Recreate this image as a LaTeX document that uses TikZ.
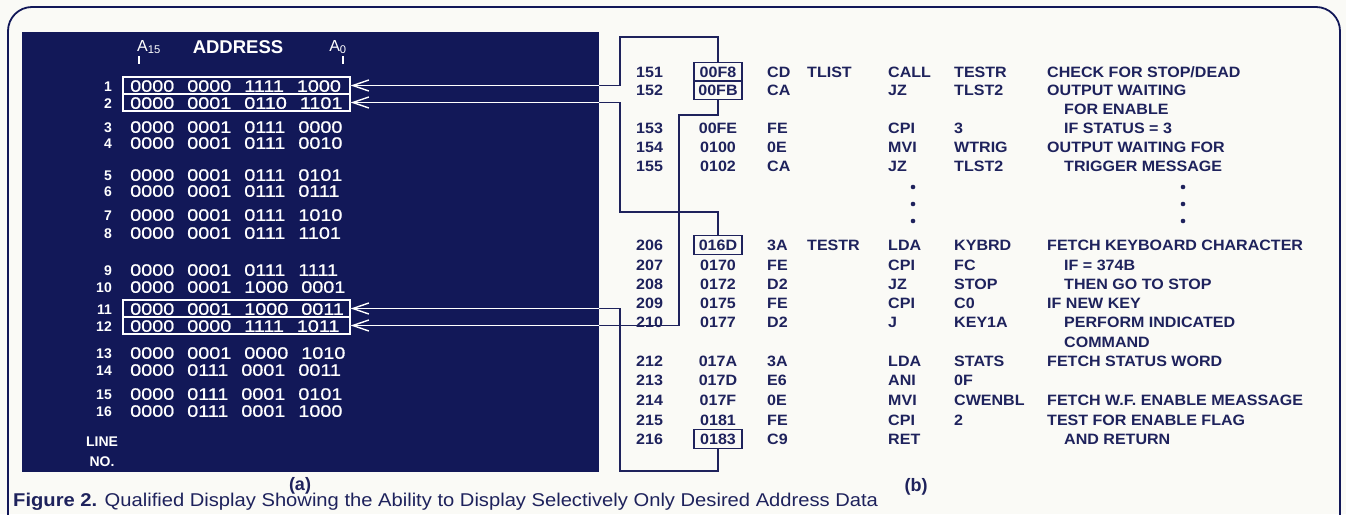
\documentclass[tikz,border=0pt]{standalone}
\usepackage{fontspec}
\setmainfont{Liberation Sans}
\newfontfamily\lstfont[FakeStretch=1.07]{Liberation Sans}
\newfontfamily\binfont[FakeStretch=1.2,FakeBold=0.8]{Liberation Sans}
\newfontfamily\capfont[FakeStretch=1.09]{Liberation Sans}
\usetikzlibrary{arrows.meta}
\usetikzlibrary{calc}
\definecolor{navy}{RGB}{18,24,88}
\definecolor{ink}{RGB}{30,34,92}
\definecolor{paper}{RGB}{250,250,246}

\begin{document}
\begin{tikzpicture}[x=1pt, y=-1pt,
  lst/.style={anchor=west, text=ink, inner sep=0pt, text height=10.5pt, text depth=0pt,
              font=\lstfont\bfseries\fontsize{15}{15}\selectfont},
  addr/.style={lst, anchor=center, minimum width=48pt, minimum height=19pt, line width=1.4pt},
  plain/.style={},
  boxed/.style={draw=ink},
  lnum/.style={anchor=east, text=white, inner sep=0pt, text height=10pt, text depth=0pt,
               font=\bfseries\fontsize{14}{14}\selectfont},
  bin/.style={anchor=west, text=white, inner sep=0pt, text height=11.5pt, text depth=0pt,
              font=\binfont\fontsize{16.5}{16.5}\selectfont},
  hlbox/.style={draw=white, line width=1.4pt, minimum width=227pt, minimum height=17pt, inner sep=0pt},
  conn/.style={line width=1.8pt, -{Straight Barb[length=16pt,width=11pt,line width=1.4pt]}},
  tag/.style={text=ink, inner sep=0pt, font=\bfseries\fontsize{18}{18}\selectfont}
]

%---------------------------------------
% Page, frame and panel
%---------------------------------------
\useasboundingbox (0,0) rectangle (1346,514);
\clip (0,0) rectangle (1346,514);
\fill[paper] (0,0) rectangle (1346,514);
\draw[navy, line width=1.8pt, rounded corners=24pt] (8,7) rectangle (1340,545);

\def\Pl{22}
\def\Pr{599}
\def\Pt{32}
\def\Pb{472}
\fill[navy] (\Pl,\Pt) rectangle (\Pr,\Pb);

%====================================================
% PANEL (a): address display
%====================================================
\node[text=white, inner sep=0pt, font=\fontsize{16}{16}\selectfont] (a15) at (149,47) {A\textsubscript{15}};
\node[text=white, inner sep=0pt, font=\bfseries\fontsize{18.5}{18.5}\selectfont] (addrhd) at (238,47) {ADDRESS};
\node[text=white, inner sep=0pt, font=\fontsize{16}{16}\selectfont] (a0) at (338,47) {A\textsubscript{0}};
\draw[white, line width=1.3pt] (139,56) -- (139,64);
\draw[white, line width=1.3pt] (343,56) -- (343,64);

% lines of the display
\foreach \y/\n/\a/\b/\c/\d in {
   86/1/0000/0000/1111/1000,  103/2/0000/0001/0110/1101,
  127/3/0000/0001/0111/0000,  143/4/0000/0001/0111/0010,
  175/5/0000/0001/0111/0101,  191/6/0000/0001/0111/0111,
  215/7/0000/0001/0111/1010,  233/8/0000/0001/0111/1101,
  270/9/0000/0001/0111/1111,  287/10/0000/0001/1000/0001,
  309/11/0000/0001/1000/0011, 326/12/0000/0000/1111/1011,
  353/13/0000/0001/0000/1010, 370/14/0000/0111/0001/0011,
  394/15/0000/0111/0001/0101, 411/16/0000/0111/0001/1000}{
  \node[lnum] (ln\n) at (112,\y) {\n};
  \node[bin] (bn\n) at (130,\y) {\a\hspace{13pt}\b\hspace{13pt}\c\hspace{13pt}\d};
}
\node[lnum, anchor=center] (line) at (102,441) {LINE};
\node[lnum, anchor=center] (lno) at (102,461) {NO.};

% selected lines
\foreach \n/\y in {1/85.5, 2/102.5, 11/308.5, 12/325.5}
  \node[hlbox] (hl\n) at (236.5,\y) {};

\node[tag] (taga) at (300,486) {(a)};

%====================================================
% PANEL (b): program listing
%====================================================
\def\ind{\hspace*{17pt}}
\foreach \y/\n/\a/\s/\o/\l/\m/\p/\c in {
   72/151/00F8/boxed/CD/TLIST/CALL/TESTR/{CHECK FOR STOP/DEAD},
   90/152/00FB/boxed/CA//JZ/TLST2/{OUTPUT WAITING},
  128/153/00FE/plain/FE//CPI/3/{\ind IF STATUS = 3},
  147/154/0100/plain/0E//MVI/WTRIG/{OUTPUT WAITING FOR},
  166/155/0102/plain/CA//JZ/TLST2/{\ind TRIGGER MESSAGE},
  245/206/016D/boxed/3A/TESTR/LDA/KYBRD/{FETCH KEYBOARD CHARACTER},
  265/207/0170/plain/FE//CPI/FC/{\ind IF = 374B},
  284/208/0172/plain/D2//JZ/STOP/{\ind THEN GO TO STOP},
  303/209/0175/plain/FE//CPI/C0/{IF NEW KEY},
  322/210/0177/plain/D2//J/KEY1A/{\ind PERFORM INDICATED},
  361/212/017A/plain/3A//LDA/STATS/{FETCH STATUS WORD},
  380/213/017D/plain/E6//ANI/0F/{},
  400/214/017F/plain/0E//MVI/CWENBL/{FETCH W.F. ENABLE MEASSAGE},
  420/215/0181/plain/FE//CPI/2/{TEST FOR ENABLE FLAG},
  439/216/0183/boxed/C9//RET//{\ind AND RETURN}}{
  \node[lst] (nm\n) at (636,\y) {\n};
  \node[addr,\s] (ad\a) at (718,\y) {\a};
  \node[lst] (op\n) at (767,\y) {\o};
  \node[lst] (lb\n) at (807,\y) {\l};
  \node[lst] (mn\n) at (888,\y) {\m};
  \node[lst] (ar\n) at (954,\y) {\p};
  \node[lst] (cm\n) at (1047,\y) {\c};
}
\node[lst] (cmen) at (1047,109) {\ind FOR ENABLE};
\node[lst] (cmcom) at (1047,342) {\ind COMMAND};

% skipped lines
\foreach \y in {187,204,221}{
  \fill[ink] (913,\y) circle (2.3);
  \fill[ink] (1183,\y) circle (2.3);
}

\node[tag] (tagb) at (916,487) {(b)};

%---------------------------------------
% Connectors: listing -> display
%---------------------------------------
\def\links#1{%
  \draw[conn,#1] (ad00F8.north) |- (620,37) |- (hl1.east);
  \draw[conn,#1] (ad016D.north) |- (620,212) |- (hl2.east);
  \draw[conn,#1] (ad00FB.south) |- (679,115) |- (hl12.east);
  \draw[conn,#1] (ad0183.south) |- (620,471) |- (hl11.east);
}
\links{ink}
\begin{scope}
  \clip (\Pl,\Pt) rectangle (\Pr,\Pb);
  \links{white, line width=1.5pt}
\end{scope}

% caption
\node[anchor=west, inner sep=0pt, text=ink, font=\capfont\fontsize{18.5}{18.5}\selectfont] (cap) at (13,502)
  {\textbf{Figure 2.} Qualified Display Showing the Ability to Display Selectively Only Desired Address Data};

\end{tikzpicture}
\end{document}
